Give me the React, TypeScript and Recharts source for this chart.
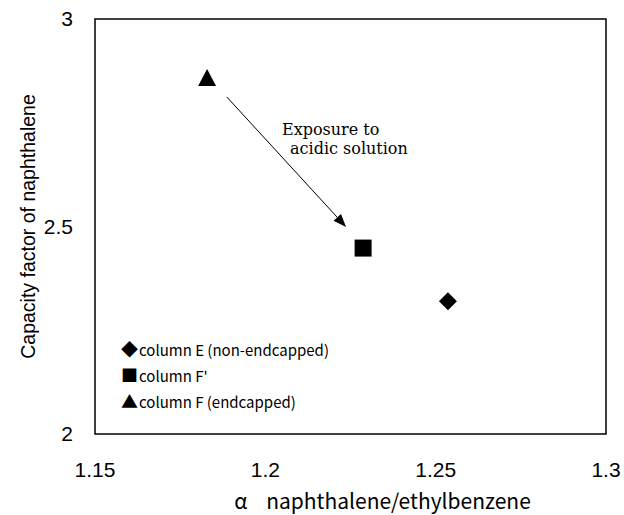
import {
  ScatterChart,
  Scatter,
  XAxis,
  YAxis,
  ReferenceArea,
  ReferenceLine,
  ReferenceDot,
} from 'recharts';

// separation factor (x) and capacity factor (y) per column
const seriesNames = ['column E (non-endcapped)', "column F'", 'column F (endcapped)'];
const alphaValues = [1.2536, 1.2287, 1.1829];
const capacityValues = [2.32, 2.448, 2.858];

const xTicks = [1.15, 1.2, 1.25, 1.3];
const yTicks = [2, 2.5, 3];

// arrow "Exposure to acidic solution": F -> F'
const arrowFrom = { x: 1.1887, y: 2.812 };
const arrowTo = { x: 1.2237, y: 2.499 };
const notePos = { x: 1.2049, y: 2.72 };
const noteLines = ['Exposure to', 'acidic solution'];

const gothic = '"Noto Sans CJK JP", "DejaVu Sans", sans-serif';
const sans = '"Liberation Sans", Arial, sans-serif';

function Diamond({ cx, cy }: any) {
  const r = 9;
  return <polygon points={`${cx},${cy - r} ${cx + r},${cy} ${cx},${cy + r} ${cx - r},${cy}`} fill="#000" />;
}

function Square({ cx, cy }: any) {
  const r = 8.5;
  return <rect x={cx - r} y={cy - r} width={r * 2} height={r * 2} fill="#000" />;
}

function Triangle({ cx, cy }: any) {
  return <polygon points={`${cx},${cy - 9} ${cx + 9},${cy + 8} ${cx - 9},${cy + 8}`} fill="#000" />;
}

const shapes = [Diamond, Square, Triangle];
const legendGlyphs = ['◆', '■', '▲'];

function ArrowShape({ x1, y1, x2, y2 }: any) {
  const ang = Math.atan2(y2 - y1, x2 - x1);
  const len = 13;
  const half = 5;
  const bx = x2 - len * Math.cos(ang);
  const by = y2 - len * Math.sin(ang);
  const px = -Math.sin(ang) * half;
  const py = Math.cos(ang) * half;
  return (
    <g>
      <line x1={x1} y1={y1} x2={bx} y2={by} stroke="#000" strokeWidth={1} />
      <polygon points={`${x2},${y2} ${bx + px},${by + py} ${bx - px},${by - py}`} fill="#000" />
    </g>
  );
}

function NoteText({ cx, cy }: any) {
  return (
    <text x={cx} y={cy} fontFamily='"DejaVu Serif", "Liberation Serif", serif' fontSize={16} fill="#000">
      <tspan x={cx} dy={0}>{noteLines[0]}</tspan>
      <tspan x={cx + 8} dy={19}>{noteLines[1]}</tspan>
    </text>
  );
}

function LegendBox() {
  return (
    <div
      style={{
        position: 'absolute',
        left: 121,
        top: 336,
        fontFamily: gothic,
        fontSize: 15,
        color: '#000',
        lineHeight: '25px',
      }}
    >
      {seriesNames.map((name, i) => (
        <div key={name} style={{ whiteSpace: 'nowrap' }}>
          <span style={{ fontSize: 17, marginRight: 1 }}>{legendGlyphs[i]}</span>
          {name}
        </div>
      ))}
    </div>
  );
}

export default function App() {
  return (
    <div style={{ position: 'relative', width: 624, height: 515, background: '#fff' }}>
      <style>{`body{margin:0}`}</style>
      <ScatterChart width={624} height={515} margin={{ top: 19, right: 18, bottom: 0, left: 0 }}>
        <XAxis
          type="number"
          dataKey="x"
          domain={[1.15, 1.3]}
          ticks={xTicks}
          tickFormatter={(v: number) => String(v)}
          axisLine={false}
          tickLine={false}
          height={81}
          tick={{ fontSize: 21, fill: '#000', fontFamily: sans, dy: 20 }}
          label={{
            value: 'α\u00a0\u00a0\u00a0\u00a0naphthalene/ethylbenzene',
            position: 'insideBottom',
            offset: 6,
            dx: 32,
            fontSize: 21,
            fill: '#000',
            fontFamily: gothic,
          }}
        />
        <YAxis
          type="number"
          dataKey="y"
          domain={[2, 3]}
          ticks={yTicks}
          axisLine={false}
          tickLine={false}
          width={95}
          tick={{ fontSize: 21, fill: '#000', fontFamily: sans, dx: -14 }}
          label={{
            value: 'Capacity factor of naphthalene',
            angle: -90,
            position: 'insideLeft',
            offset: 28,
            fontSize: 19.5,
            fill: '#000',
            fontFamily: sans,
            style: { textAnchor: 'middle' },
          }}
        />
        <ReferenceArea x1={1.15} x2={1.3} y1={2} y2={3} fill="none" stroke="#000" strokeWidth={1.5} fillOpacity={0} />
        <ReferenceLine segment={[arrowFrom, arrowTo]} shape={ArrowShape} />
        <ReferenceDot x={notePos.x} y={notePos.y} r={0} shape={NoteText} />
        {seriesNames.map((name, i) => (
          <Scatter
            key={name}
            name={name}
            data={[{ x: alphaValues[i], y: capacityValues[i] }]}
            shape={shapes[i]}
            isAnimationActive={false}
          />
        ))}
      </ScatterChart>
      <LegendBox />
    </div>
  );
}
